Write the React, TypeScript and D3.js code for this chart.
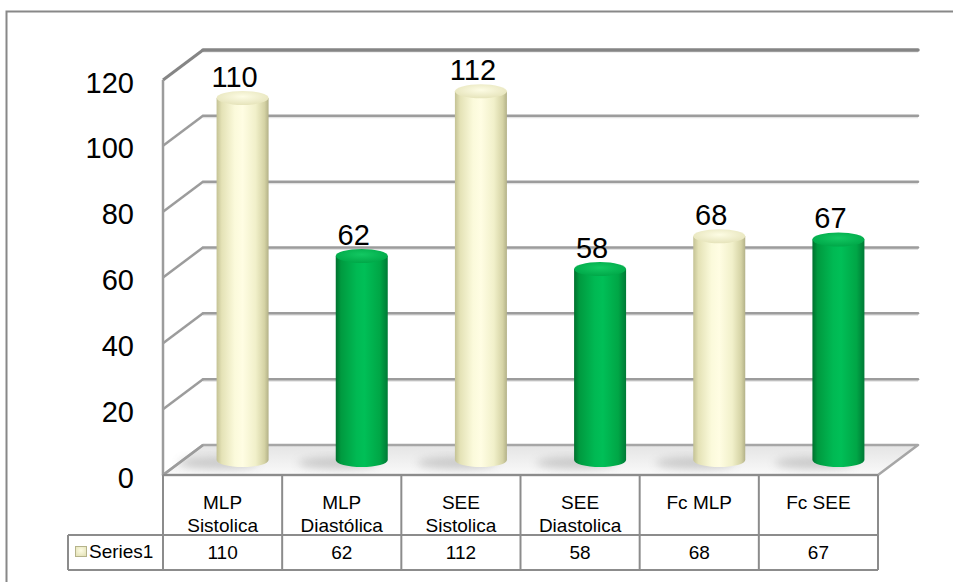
import * as d3 from 'd3';
import React from 'react';

const categories = [
  ['MLP', 'Sistolica'],
  ['MLP', 'Diastólica'],
  ['SEE', 'Sistolica'],
  ['SEE', 'Diastolica'],
  ['Fc MLP'],
  ['Fc SEE'],
];
const values = [110, 62, 112, 58, 68, 67];
const barColors = ['yellow', 'green', 'yellow', 'green', 'yellow', 'green'];
const yTicks = [0, 20, 40, 60, 80, 100, 120];
const seriesName = 'Series1';

const W = 953;
const H = 582;
const FONT = 'Liberation Sans, Arial, sans-serif';

export default function App() {
  // front plane of the 3d box, back plane shifted by depth
  const dx = 40;
  const dy = -30;
  const left = 163;
  const right = 878;
  const y = d3.scaleLinear().domain([0, 120]).range([475, 80]);
  const x = d3
    .scaleBand<number>()
    .domain(d3.range(values.length))
    .range([left, right])
    .padding(0);
  const bw = x.bandwidth();
  const rx = 26;
  const ry = 7;
  const floorY = y(0);
  const rowTop = floorY;
  const rowMid = 535;
  const rowBot = 570;
  const legendLeft = 68;

  const floorPts = [
    [left, floorY],
    [right, floorY],
    [right + dx, floorY + dy],
    [left + dx, floorY + dy],
  ];

  return (
    <svg
      width={W}
      height={H}
      style={{ position: 'absolute', left: 0, top: 0, background: '#fff' }}
      fontFamily={FONT}
    >
      <defs>
        <linearGradient id="body-yellow" x1="0" x2="1" y1="0" y2="0">
          <stop offset="0%" stopColor="#c4c294" />
          <stop offset="10%" stopColor="#e4e2b6" />
          <stop offset="35%" stopColor="#fbfadb" />
          <stop offset="50%" stopColor="#fffde3" />
          <stop offset="75%" stopColor="#f1f0ca" />
          <stop offset="92%" stopColor="#d5d3a5" />
          <stop offset="100%" stopColor="#b3b188" />
        </linearGradient>
        <linearGradient id="body-green" x1="0" x2="1" y1="0" y2="0">
          <stop offset="0%" stopColor="#00702e" />
          <stop offset="10%" stopColor="#009a3f" />
          <stop offset="40%" stopColor="#00b953" />
          <stop offset="55%" stopColor="#00bf57" />
          <stop offset="85%" stopColor="#00a646" />
          <stop offset="100%" stopColor="#007a36" />
        </linearGradient>
        <radialGradient id="cap-yellow" cx="0.5" cy="0.4" r="0.6">
          <stop offset="0%" stopColor="#fdfce4" />
          <stop offset="100%" stopColor="#e6e4bb" />
        </radialGradient>
        <radialGradient id="cap-green" cx="0.5" cy="0.4" r="0.6">
          <stop offset="0%" stopColor="#12c862" />
          <stop offset="100%" stopColor="#00a848" />
        </radialGradient>
        <linearGradient id="floor-grad" x1="0" x2="0" y1="0" y2="1">
          <stop offset="0%" stopColor="#e4e4e4" />
          <stop offset="100%" stopColor="#fafafa" />
        </linearGradient>
        <filter id="blur" x="-50%" y="-50%" width="200%" height="200%">
          <feGaussianBlur stdDeviation="4" />
        </filter>
      </defs>

      {/* outer border */}
      <rect x={6.5} y={11.5} width={970} height={590} fill="none" stroke="#888" strokeWidth={2} />

      {/* floor */}
      <polygon
        points={floorPts.map((p) => p.join(',')).join(' ')}
        fill="url(#floor-grad)"
        stroke="#a6a6a6"
        strokeWidth={2.5}
        strokeLinejoin="round"
      />

      {/* gridlines: left wall diagonal + back wall horizontal */}
      {yTicks.map((t) => {
        const yf = y(t);
        const top = t === 120;
        const c = top ? '#858585' : '#9c9c9c';
        const sw = top ? 3.5 : 2.5;
        return (
          <g key={t}>
            {t > 0 && (
              <line x1={left + dx} x2={right + dx} y1={yf + dy + 1.5} y2={yf + dy + 1.5} stroke="#e2e2e2" strokeWidth={2} />
            )}
            {t > 0 && (
              <line x1={left + dx} x2={right + dx} y1={yf + dy} y2={yf + dy} stroke={c} strokeWidth={sw} strokeLinecap="round" />
            )}
            <line x1={left} x2={left + dx} y1={yf} y2={yf + dy} stroke={c} strokeWidth={top ? 3 : 2.5} />
          </g>
        );
      })}
      <line x1={left} x2={left} y1={y(120)} y2={floorY} stroke="#9c9c9c" strokeWidth={2.5} />

      {/* y axis labels */}
      {yTicks.map((t) => (
        <text key={t} x={134} y={y(t) + 12.5} textAnchor="end" fontSize={29} fill="#000">
          {t}
        </text>
      ))}

      {/* shadows */}
      {values.map((v, i) => {
        const cx = (x(i) as number) + bw / 2 + dx / 2;
        return (
          <ellipse
            key={'s' + i}
            cx={cx - 24}
            cy={floorY + dy / 2 + 3}
            rx={40}
            ry={6}
            fill="#999"
            opacity={0.45}
            filter="url(#blur)"
          />
        );
      })}

      {/* bars */}
      {values.map((v, i) => {
        const cx = (x(i) as number) + bw / 2 + dx / 2;
        const yb = floorY + dy / 2;
        const yt = y(v) + dy / 2;
        const kind = barColors[i];
        const body = `M${cx - rx},${yt} L${cx - rx},${yb} A${rx},${ry} 0 0 0 ${cx + rx},${yb} L${cx + rx},${yt} Z`;
        return (
          <g key={'b' + i}>
            <path d={body} fill={`url(#body-${kind})`} />
            <ellipse cx={cx} cy={yt} rx={rx} ry={ry} fill={`url(#cap-${kind})`} />
            <text x={cx - 8} y={yt - 11} textAnchor="middle" fontSize={29} fill="#000">
              {v}
            </text>
          </g>
        );
      })}

      {/* data table */}
      <g stroke="#8c8c8c" strokeWidth={2} fill="none">
        <line x1={left} x2={right} y1={rowTop} y2={rowTop} />
        <line x1={legendLeft} x2={right} y1={rowMid} y2={rowMid} />
        <line x1={legendLeft} x2={right} y1={rowBot} y2={rowBot} />
        <line x1={legendLeft} x2={legendLeft} y1={rowMid} y2={rowBot} />
        {d3.range(values.length + 1).map((i) => {
          const xx = i < values.length ? (x(i) as number) : right;
          return <line key={i} x1={xx} x2={xx} y1={rowTop} y2={rowBot} />;
        })}
      </g>
      {categories.map((lines, i) => {
        const cx = (x(i) as number) + bw / 2;
        return (
          <g key={'c' + i}>
            {lines.map((l, j) => (
              <text key={j} x={cx} y={509 + j * 23} textAnchor="middle" fontSize={19} fill="#000">
                {l}
              </text>
            ))}
            <text x={cx} y={559} textAnchor="middle" fontSize={19} fill="#000">
              {values[i]}
            </text>
          </g>
        );
      })}
      <rect x={75.5} y={546.5} width={11} height={10} fill="url(#cap-yellow)" stroke="#b5b38a" strokeWidth={1} />
      <text x={89} y={558} fontSize={19} fill="#000">
        {seriesName}
      </text>
    </svg>
  );
}
